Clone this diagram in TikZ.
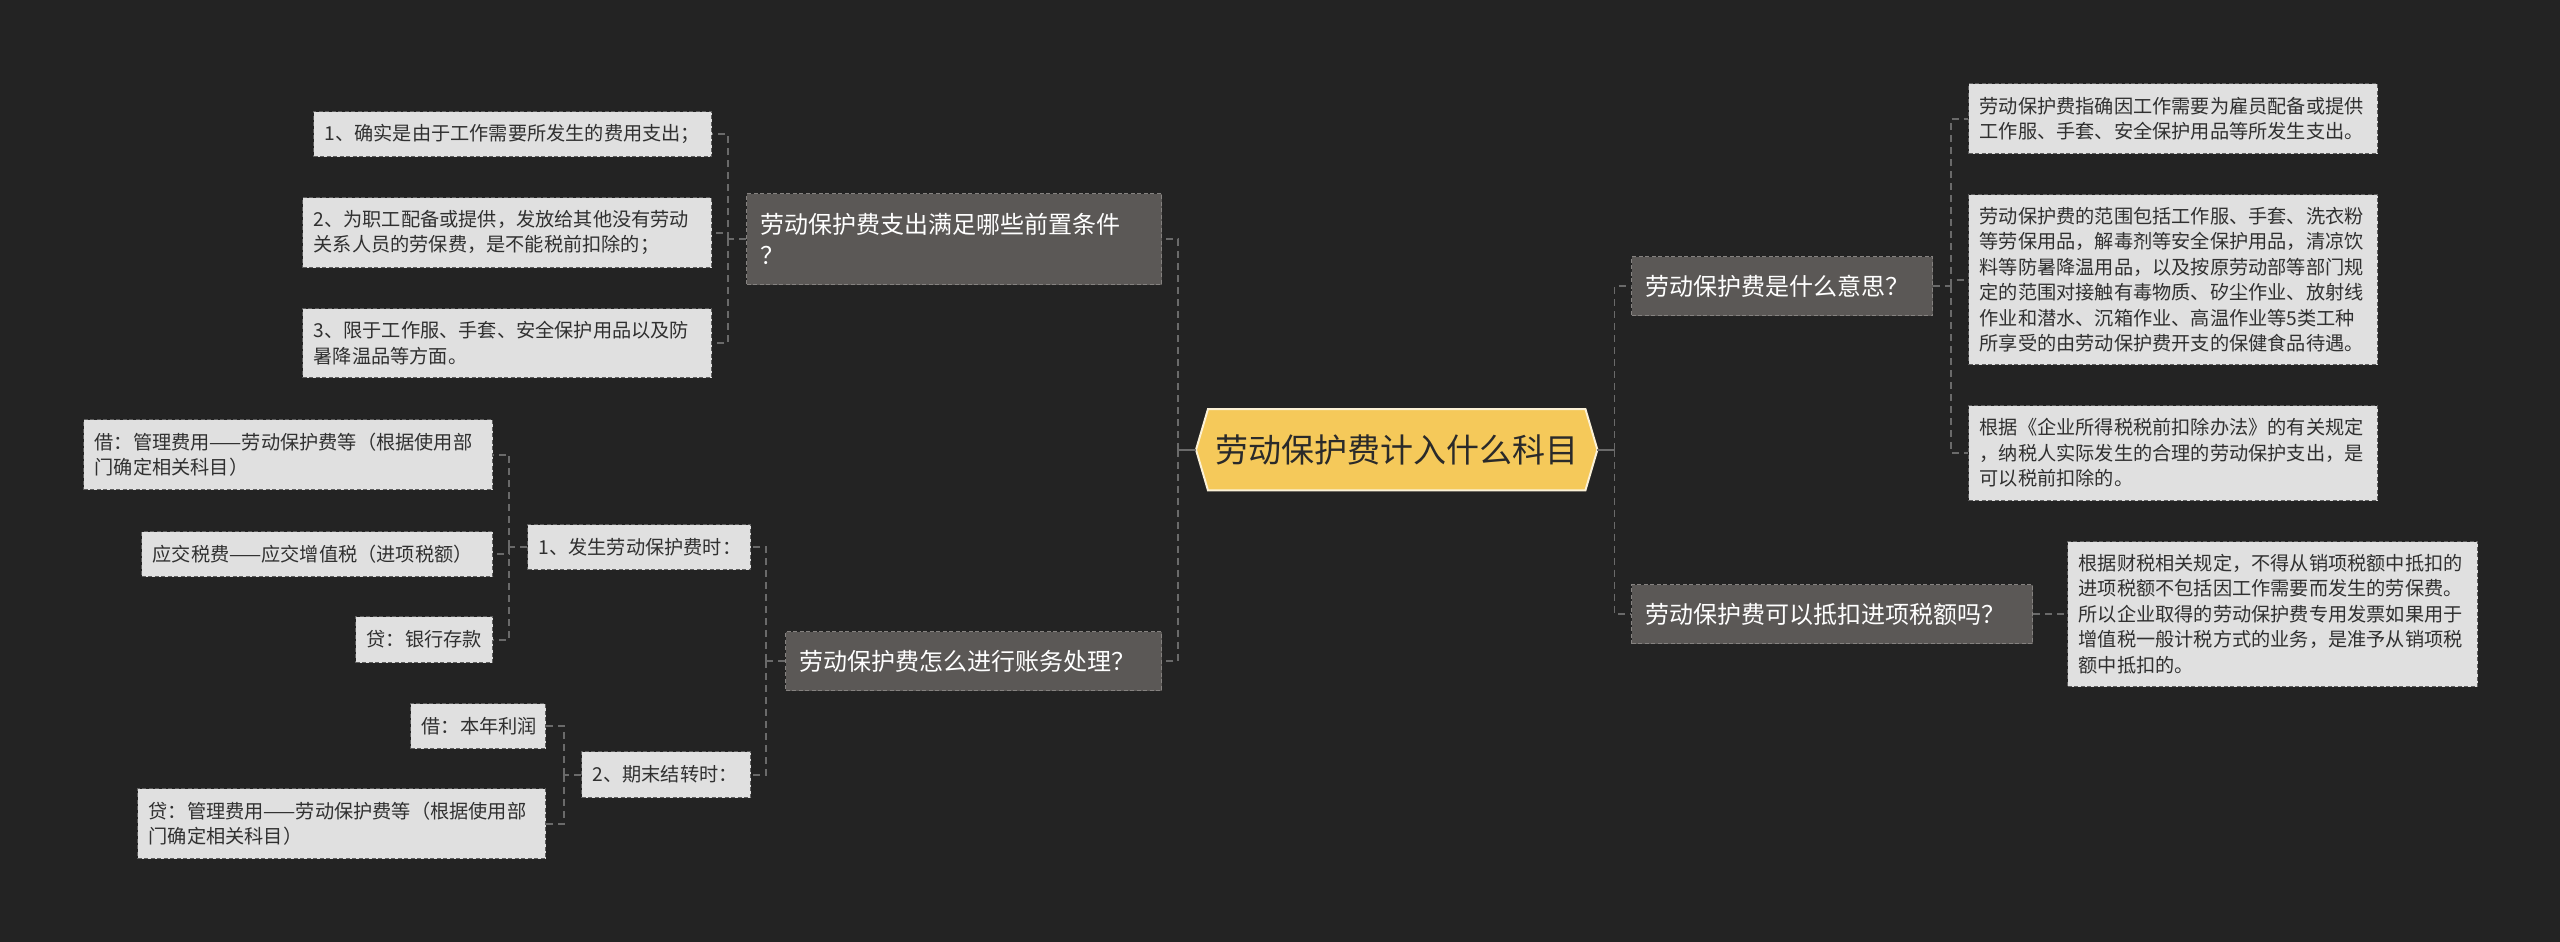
\documentclass[tikz,border=0pt]{standalone}
\usepackage{fontspec}
\newfontfamily\cjk{Noto Sans CJK SC}
\definecolor{bg}{HTML}{232323}
\definecolor{rootfill}{HTML}{F5C95A}
\definecolor{rootline}{HTML}{FBF1D6}
\definecolor{rootText}{HTML}{2A2A2A}
\definecolor{midfill}{HTML}{5B5856}
\definecolor{midline}{HTML}{858280}
\definecolor{leaffill}{HTML}{E0E0E0}
\definecolor{leafline}{HTML}{5E5E5E}
\definecolor{leaftext}{HTML}{303030}
\definecolor{conncol}{HTML}{6A6A6A}
\tikzset{
  leaf/.style={fill=leaffill, draw=leafline, line width=1.2pt, dash pattern=on 4pt off 2.5pt,
    text=leaftext, font=\cjk\fontsize{19.2}{25.5}\selectfont, align=left,
    inner xsep=11pt, inner ysep=0pt, anchor=north west},
  mid/.style={fill=midfill, draw=midline, line width=1.2pt, dash pattern=on 4pt off 2.5pt,
    text=white, font=\cjk\fontsize{24}{31}\selectfont, align=left,
    inner xsep=14pt, inner ysep=0pt, anchor=north west},
  conn/.style={draw=conncol, line width=1.8pt, dash pattern=on 7pt off 5pt},
  solidconn/.style={draw=conncol, line width=2.2pt},
}
\begin{document}
\begin{tikzpicture}[x=1pt,y=-1pt]
\useasboundingbox (0,0) rectangle (2560,942);
\fill[bg] (0,0) rectangle (2560,942);

% root
\node[minimum width=401pt, minimum height=81pt, inner sep=0pt, anchor=north west] (root) at (1196,409) {};
\filldraw[fill=rootfill, draw=rootline, line width=2pt]
  (root.west) -- ([xshift=12pt]root.north west) -- ([xshift=-12pt]root.north east)
  -- (root.east) -- ([xshift=-12pt]root.south east) -- ([xshift=12pt]root.south west) -- cycle;
\node[text=rootText, font=\cjk\fontsize{33}{40}\selectfont, inner sep=0pt] (roottext) at (root.center) {劳动保护费计入什么科目};

% level 1
\node[mid, text width=387pt, minimum height=91pt] (L1) at (746,193) {劳动保护费支出满足哪些前置条件\\？};
\node[mid, text width=348pt, minimum height=59pt] (L2) at (785,631) {劳动保护费怎么进行账务处理？};
\node[mid, text width=273pt, minimum height=59pt] (R1) at (1631,256) {劳动保护费是什么意思？};
\node[mid, text width=373pt, minimum height=59pt] (R2) at (1631,584) {劳动保护费可以抵扣进项税额吗？};

% L1 children
\node[leaf, text width=376pt, minimum height=45pt] (c1) at (313,111) {1、确实是由于工作需要所发生的费用支出；};
\node[leaf, text width=387pt, minimum height=70pt] (c2) at (302,197) {2、为职工配备或提供，发放给其他没有劳动\\关系人员的劳保费，是不能税前扣除的；};
\node[leaf, text width=387pt, minimum height=69pt] (c3) at (302,308) {3、限于工作服、手套、安全保护用品以及防\\暑降温品等方面。};

% L2 children
\node[leaf, text width=201pt, minimum height=45pt] (g1) at (527,524) {1、发生劳动保护费时：};
\node[leaf, text width=147pt, minimum height=46pt] (g2) at (581,751) {2、期末结转时：};
\node[leaf, text width=387pt, minimum height=70pt] (h1) at (83,419) {借：管理费用——劳动保护费等（根据使用部\\门确定相关科目）};
\node[leaf, text width=329pt, minimum height=45pt] (h2) at (141,531) {应交税费——应交增值税（进项税额）};
\node[leaf, text width=115pt, minimum height=46pt] (h3) at (355,616) {贷：银行存款};
\node[leaf, text width=113pt, minimum height=45pt] (h4) at (410,703) {借：本年利润};
\node[leaf, text width=386pt, minimum height=70pt] (h5) at (137,788) {贷：管理费用——劳动保护费等（根据使用部\\门确定相关科目）};

% R1 children
\node[leaf, text width=387pt, minimum height=70pt] (r1) at (1968,83) {劳动保护费指确因工作需要为雇员配备或提供\\工作服、手套、安全保护用品等所发生支出。};
\node[leaf, text width=387pt, minimum height=170pt] (r2) at (1968,194) {劳动保护费的范围包括工作服、手套、洗衣粉\\等劳保用品，解毒剂等安全保护用品，清凉饮\\料等防暑降温用品，以及按原劳动部等部门规\\定的范围对接触有毒物质、矽尘作业、放射线\\作业和潜水、沉箱作业、高温作业等5类工种\\所享受的由劳动保护费开支的保健食品待遇。};
\node[leaf, text width=387pt, minimum height=95pt] (r3) at (1968,405) {根据《企业所得税税前扣除办法》的有关规定\\，纳税人实际发生的合理的劳动保护支出，是\\可以税前扣除的。};
% R2 child
\node[leaf, text width=388pt, minimum height=145pt] (s1) at (2067,541) {根据财税相关规定，不得从销项税额中抵扣的\\进项税额不包括因工作需要而发生的劳保费。\\所以企业取得的劳动保护费专用发票如果用于\\增值税一般计税方式的业务，是准予从销项税\\额中抵扣的。};

% connectors
\draw[solidconn] (root.west) -- ++(-18,0) coordinate (lb);
\draw[solidconn] (root.east) -- ++(17,0) coordinate (rb);
\draw[conn] (lb) |- (L1.east);
\draw[conn] (lb) |- (L2.east);
\draw[conn] (rb) |- (R1.west);
\draw[conn] (rb) |- (R2.west);

\draw[conn] (L1.west) -- ++(-18,0) coordinate (l1b);
\draw[conn] (l1b) |- (c1.east);
\draw[conn] (l1b) |- (c2.east);
\draw[conn] (l1b) |- (c3.east);

\draw[conn] (L2.west) -- ++(-19,0) coordinate (l2b);
\draw[conn] (l2b) |- (g1.east);
\draw[conn] (l2b) |- (g2.east);

\draw[conn] (g1.west) -- ++(-18,0) coordinate (g1b);
\draw[conn] (g1b) |- (h1.east);
\draw[conn] (g1b) |- (h2.east);
\draw[conn] (g1b) |- (h3.east);

\draw[conn] (g2.west) -- ++(-17,0) coordinate (g2b);
\draw[conn] (g2b) |- (h4.east);
\draw[conn] (g2b) |- (h5.east);

\draw[conn] (R1.east) -- ++(18,0) coordinate (r1b);
\draw[conn] (r1b) |- (r1.west);
\draw[conn] (r1b) |- (r2.west);
\draw[conn] (r1b) |- (r3.west);

\draw[conn] (R2.east) -- (s1.west);
\end{tikzpicture}
\end{document}
